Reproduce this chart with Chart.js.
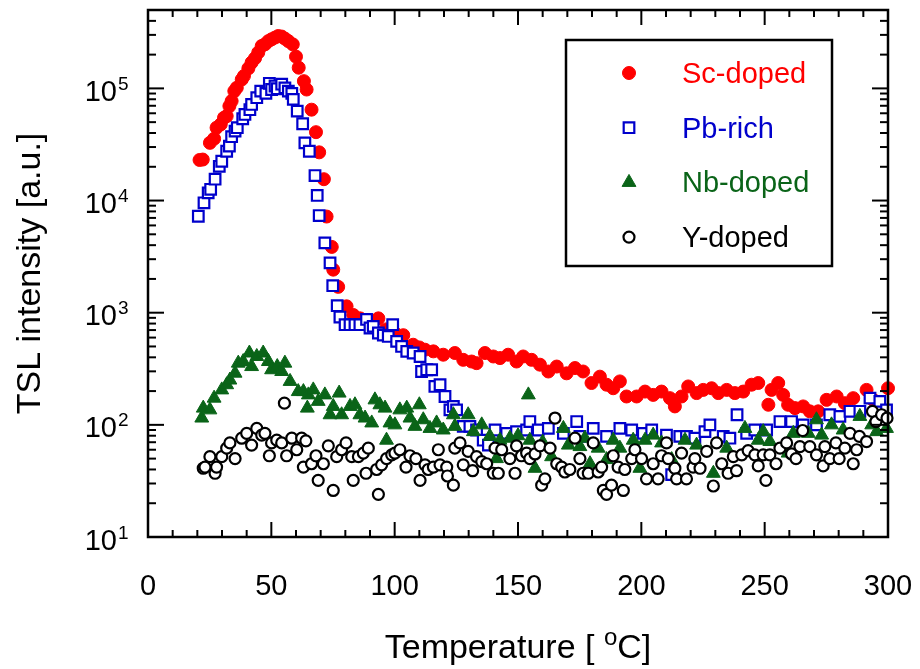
<!DOCTYPE html>
<html>
<head>
<meta charset="utf-8">
<title>TSL intensity</title>
<script src="https://cdn.jsdelivr.net/npm/chart.js@4.4.1/dist/chart.umd.min.js"></script>
<style>
  html, body { margin: 0; padding: 0; background: #fff; }
  canvas { display: block; }
</style>
</head>
<body>
<canvas id="tslChart" width="920" height="669"></canvas>
<script>
// [temperature (C), TSL intensity (a.u.)]
const scDoped = [
  [20.9, 23000], [22.2, 23200], [25.1, 32700], [26.8, 35600], [27.8, 44600], [29.5, 47800],
  [30.8, 54700], [31.9, 56600], [33.0, 69500], [33.9, 77100], [35.0, 94600], [36.0, 101400],
  [38.0, 120000], [38.9, 129000], [40.7, 151000], [42.0, 170000], [43.4, 186000], [44.7, 209000],
  [46.1, 239000], [47.4, 247000], [48.8, 264000], [50.1, 274000], [51.5, 284000], [52.8, 293000],
  [54.2, 290000], [55.5, 278000], [56.9, 264000], [58.7, 247000], [60.0, 192000], [61.1, 153000],
  [63.2, 116000], [64.3, 97700], [66.3, 64600], [68.1, 40700], [69.4, 26900], [71.3, 15500],
  [72.4, 7200], [74.5, 3860], [75.1, 2420], [77.1, 1700], [80.5, 1140], [83.2, 955],
  [86.0, 890], [88.6, 810], [91.0, 850], [93.4, 890], [96.4, 710], [100.0, 660],
  [103.5, 630], [107.5, 518], [110.0, 490], [112.3, 468], [115.7, 452], [119.7, 422],
  [124.4, 437], [127.8, 380], [131.2, 367], [133.2, 355], [136.6, 437], [140.0, 407],
  [142.7, 394], [146.0, 422], [149.4, 367], [152.1, 407], [155.5, 380], [158.9, 344],
  [162.3, 299], [165.7, 331], [169.7, 288], [173.1, 321], [176.4, 299], [179.8, 236],
  [183.2, 269], [185.9, 228], [188.6, 212], [191.3, 244], [194.0, 179], [198.1, 179],
  [201.5, 198], [204.8, 185], [208.2, 198], [211.6, 173], [213.6, 146], [216.3, 179],
  [219.0, 220], [222.4, 192], [225.1, 205], [228.5, 212], [231.2, 192], [234.6, 205],
  [237.9, 192], [241.3, 198], [244.7, 228], [247.4, 236], [251.5, 151], [252.8, 205],
  [255.5, 236], [257.5, 185], [259.5, 151], [262.3, 141], [265.6, 146], [268.3, 132],
  [271.7, 132], [275.1, 167], [279.2, 179], [282.5, 156], [285.9, 173], [291.3, 205],
  [294.0, 167], [300.0, 212]
];

const pbRich = [
  [20.4, 7240], [22.7, 9550], [24.4, 11700], [25.4, 12600], [27.2, 15500], [28.9, 20200],
  [29.9, 22400], [31.9, 27500], [33.0, 30600], [33.9, 37100], [35.3, 41600], [36.2, 44600],
  [38.4, 53600], [39.3, 58600], [41.3, 64600], [42.0, 71900], [44.1, 82600], [45.7, 94600],
  [47.8, 90200], [49.2, 111000], [50.1, 97700], [51.5, 105000], [52.4, 99300], [54.2, 109000],
  [55.5, 101000], [56.9, 94600], [58.3, 90200], [58.9, 79800], [60.5, 62700], [62.7, 48400],
  [63.6, 32700], [65.4, 27500], [67.7, 16700], [68.6, 11100], [69.4, 7350], [71.7, 4190],
  [73.8, 2780], [74.9, 1740], [76.7, 1155], [77.8, 914], [79.9, 782], [81.9, 782],
  [83.9, 782], [85.9, 782], [88.6, 871], [90.0, 730], [91.3, 755], [93.4, 659],
  [95.4, 631], [97.4, 614], [99.2, 782], [100.8, 555], [102.8, 500], [104.9, 452],
  [107.5, 437], [110.3, 407], [110.9, 299], [113.0, 310], [115.0, 310], [116.3, 220],
  [118.4, 228], [120.4, 179], [122.4, 136], [123.8, 146], [125.1, 136], [127.8, 97],
  [130.5, 97], [133.2, 90], [135.9, 73], [138.0, 66], [140.7, 90], [145.4, 84],
  [149.4, 87], [153.5, 90], [154.8, 107], [158.2, 90], [162.3, 93], [168.4, 84],
  [173.8, 107], [175.1, 79], [180.5, 93], [185.9, 79], [191.3, 93], [196.1, 90],
  [200.8, 84], [204.2, 90], [210.2, 81], [212.3, 36], [215.6, 79], [218.3, 79],
  [221.7, 76], [225.8, 87], [227.8, 100], [233.2, 79], [235.9, 76], [238.8, 123],
  [242.7, 84], [246.0, 90], [250.8, 90], [256.2, 107], [260.9, 107], [265.6, 100],
  [271.0, 100], [276.4, 123], [280.5, 119], [284.6, 132], [288.6, 132], [292.7, 173],
  [296.7, 162], [299.4, 136]
];

const nbDoped = [
  [21.8, 115], [22.4, 141], [25.1, 136], [26.8, 173], [29.9, 205], [31.9, 228],
  [33.2, 251], [35.3, 289], [36.6, 355], [38.6, 367], [41.1, 437], [42.0, 331],
  [44.1, 407], [46.7, 437], [48.8, 367], [50.1, 310], [52.4, 331], [54.2, 299],
  [55.5, 355], [57.6, 244], [60.9, 198], [63.0, 198], [64.6, 141], [65.0, 185],
  [67.0, 205], [69.0, 162], [71.7, 185], [73.8, 123], [75.1, 146], [77.5, 192],
  [78.5, 123], [81.9, 146], [83.9, 151], [85.9, 123], [88.0, 115], [90.7, 104],
  [92.0, 167], [94.0, 151], [96.1, 141], [96.7, 73], [98.1, 104], [100.1, 100],
  [102.1, 136], [104.9, 141], [106.2, 115], [108.2, 97], [110.0, 151], [111.6, 111],
  [114.3, 93], [117.0, 104], [119.7, 90], [123.8, 123], [124.4, 97], [129.8, 123],
  [131.9, 87], [135.3, 100], [138.6, 79], [141.3, 50], [142.7, 73], [146.7, 76],
  [150.0, 80], [154.2, 185], [154.8, 73], [156.9, 41], [160.0, 70], [163.6, 52],
  [168.4, 93], [170.4, 66], [175.1, 64], [177.1, 76], [179.2, 45], [182.5, 62],
  [185.9, 49], [188.6, 73], [191.3, 62], [196.7, 73], [199.4, 41], [201.5, 73],
  [204.8, 81], [208.2, 69], [212.3, 49], [217.7, 73], [222.4, 66], [229.2, 37],
  [234.6, 62], [242.0, 93], [247.4, 73], [249.4, 87], [252.1, 71], [259.5, 56],
  [261.6, 84], [267.7, 84], [271.0, 111], [273.1, 81], [277.1, 100], [281.8, 90],
  [288.6, 119], [293.4, 100], [295.4, 87], [299.4, 93]
];

const yDoped = [
  [22.4, 41], [23.1, 42], [25.1, 52], [27.2, 37], [27.8, 42], [29.9, 52],
  [31.9, 62], [33.2, 69], [35.3, 50], [38.0, 76], [40.0, 84], [42.0, 66],
  [44.1, 93], [46.1, 81], [47.4, 84], [49.2, 53], [50.1, 69], [52.2, 73],
  [54.2, 69], [55.3, 156], [56.2, 53], [58.3, 76], [60.3, 60], [62.3, 76],
  [63.0, 42], [64.0, 72], [66.3, 45], [68.1, 53], [69.0, 32], [71.1, 45],
  [73.1, 65], [75.1, 26], [76.5, 52], [78.5, 60], [80.3, 69], [82.6, 52],
  [83.2, 32], [85.3, 52], [87.3, 56], [88.4, 37], [89.3, 62], [92.7, 40],
  [93.4, 24], [94.7, 44], [96.7, 50], [98.8, 54], [100.1, 56], [102.1, 60],
  [104.6, 42], [106.2, 53], [108.6, 50], [110.3, 32], [112.3, 44], [113.6, 40],
  [115.7, 42], [117.7, 60], [118.4, 44], [121.1, 42], [121.4, 35], [123.8, 29],
  [124.4, 62], [126.5, 69], [127.8, 44], [129.8, 58], [131.6, 39], [133.2, 52],
  [135.3, 47], [137.3, 45], [140.0, 37], [140.7, 62], [142.0, 37], [143.4, 60],
  [146.7, 50], [148.8, 37], [149.4, 65], [151.4, 53], [153.5, 56], [154.8, 50],
  [156.9, 55], [158.9, 65], [159.6, 29], [160.9, 33], [163.0, 62], [165.0, 115],
  [165.7, 45], [167.7, 42], [169.0, 38], [171.0, 40], [173.1, 76], [175.1, 50],
  [176.4, 37], [178.5, 37], [180.5, 69], [182.5, 38], [183.9, 42], [184.6, 26],
  [185.9, 24], [187.9, 29], [188.6, 53], [190.6, 42], [192.7, 26], [193.3, 40],
  [196.1, 50], [197.4, 60], [200.1, 50], [202.1, 33], [204.8, 45], [206.8, 33],
  [208.2, 53], [210.2, 69], [210.9, 50], [213.6, 41], [214.3, 33], [216.3, 56],
  [218.3, 33], [221.0, 42], [221.7, 50], [223.8, 41], [226.5, 58], [229.2, 28.5],
  [230.5, 69], [232.6, 45], [235.2, 37], [237.3, 52], [238.6, 39], [240.7, 54],
  [243.3, 59], [246.0, 54], [247.4, 43], [249.4, 54], [250.5, 32], [252.1, 54],
  [254.6, 45], [256.2, 62], [258.9, 69], [260.9, 55], [262.7, 50], [264.3, 64],
  [265.4, 89], [268.3, 64], [271.0, 54], [273.7, 43], [274.4, 64], [276.4, 50],
  [278.9, 69], [280.2, 50], [282.5, 62], [284.6, 84], [285.9, 45], [287.3, 60],
  [288.4, 79], [291.3, 71], [293.7, 132], [295.1, 107], [297.4, 123], [299.6, 115]
];

// axis ticks
const xMajorTicks = [0, 50, 100, 150, 200, 250, 300];
const xTickLabels = ['0', '50', '100', '150', '200', '250', '300'];
const yDecades = [10, 100, 1000, 10000, 100000];
const yTickExponents = ['1', '2', '3', '4', '5'];

const FONT = '"Liberation Sans", Arial, Helvetica, sans-serif';
const RED = '#ff0000';
const BLUE = '#0000cc';
const GREEN = '#0a6418';

function toPoints(pairs) {
  return pairs.map(p => ({x: p[0], y: p[1]}));
}

const series = [
  {label: 'Sc-doped', data: scDoped, color: RED, style: 'circle', radius: 6.5, fill: RED, border: 1, order: 4},
  {label: 'Pb-rich', data: pbRich, color: BLUE, style: 'rect', radius: 7.5, fill: '#ffffff', border: 2.2, order: 3},
  {label: 'Nb-doped', data: nbDoped, color: GREEN, style: 'triangle', radius: 8, fill: GREEN, border: 1, order: 2},
  {label: 'Y-doped', data: yDoped, color: '#000000', style: 'circle', radius: 5.5, fill: '#ffffff', border: 2.2, order: 1}
];

// draw text with a raised small part, e.g. 10 + superscript 5
function supText(ctx, parts, x, y) {
  let cx = x;
  parts.forEach(p => {
    ctx.font = p.size + 'px ' + FONT;
    ctx.fillText(p.text, cx, y - (p.rise || 0));
    cx += ctx.measureText(p.text).width;
  });
}
function supWidth(ctx, parts) {
  let w = 0;
  parts.forEach(p => {
    ctx.font = p.size + 'px ' + FONT;
    w += ctx.measureText(p.text).width;
  });
  return w;
}

const frameAxes = {
  id: 'frameAxes',
  afterDraw(chart) {
    const ctx = chart.ctx;
    const a = chart.chartArea;
    const xs = chart.scales.x;
    const ys = chart.scales.y;
    ctx.save();
    ctx.strokeStyle = '#000';
    ctx.fillStyle = '#000';
    ctx.lineWidth = 2.5;
    ctx.lineCap = 'butt';
    ctx.strokeRect(a.left, a.top, a.right - a.left, a.bottom - a.top);

    const seg = (x1, y1, x2, y2) => {
      ctx.beginPath(); ctx.moveTo(x1, y1); ctx.lineTo(x2, y2); ctx.stroke();
    };

    // x ticks, pointing inward, bottom and top
    ctx.lineWidth = 2;
    for (let t = xs.min; t <= xs.max; t += 10) {
      const px = xs.getPixelForValue(t);
      const len = xMajorTicks.includes(t) ? 15 : 7;
      seg(px, a.bottom, px, a.bottom - len);
      seg(px, a.top, px, a.top + len);
    }
    // y ticks, log decades with 2..9 minors
    yDecades.forEach(d => {
      for (let m = 1; m <= 9; m++) {
        const v = m * d;
        if (v > ys.max) break;
        const py = ys.getPixelForValue(v);
        const len = m === 1 ? 16 : 8;
        seg(a.left, py, a.left + len, py);
        seg(a.right, py, a.right - len, py);
      }
    });

    // tick labels
    ctx.textBaseline = 'alphabetic';
    ctx.textAlign = 'center';
    ctx.font = '29px ' + FONT;
    xMajorTicks.forEach((t, i) => {
      ctx.fillText(xTickLabels[i], xs.getPixelForValue(t), a.bottom + 58);
    });
    yDecades.forEach((d, i) => {
      const py = ys.getPixelForValue(d) + 12.5;
      ctx.textAlign = 'right';
      ctx.font = '29px ' + FONT;
      ctx.fillText('10', a.left - 31, py);
      ctx.textAlign = 'left';
      ctx.font = '19px ' + FONT;
      ctx.fillText(yTickExponents[i], a.left - 30, py - 11);
    });

    // axis titles
    ctx.textAlign = 'left';
    const xTitle = [
      {text: 'Temperature [ ', size: 34},
      {text: 'o', size: 24, rise: 13},
      {text: 'C]', size: 34}
    ];
    const xw = supWidth(ctx, xTitle);
    supText(ctx, xTitle, (a.left + a.right) / 2 - xw / 2, 658);

    ctx.save();
    ctx.translate(40, (a.top + a.bottom) / 2);
    ctx.rotate(-Math.PI / 2);
    ctx.textAlign = 'center';
    ctx.font = '34px ' + FONT;
    ctx.fillText('TSL intensity [a.u.]', 0, 0);
    ctx.restore();

    // legend box
    ctx.lineWidth = 2.5;
    ctx.strokeStyle = '#000';
    ctx.strokeRect(566, 40, 266, 226);
    series.forEach((s, i) => {
      const cy = 73 + i * 54.7;
      ctx.fillStyle = s.fill;
      ctx.strokeStyle = s.color;
      ctx.lineWidth = s.border;
      Chart.helpers.drawPoint(ctx, {pointStyle: s.style, radius: s.radius, rotation: 0, borderWidth: s.border}, 629, cy);
      ctx.fillStyle = s.color;
      ctx.textAlign = 'left';
      ctx.font = '29px ' + FONT;
      ctx.fillText(s.label, 682, cy + 10);
    });
    ctx.restore();
  }
};

const datasets = series.map(s => ({
  label: s.label,
  data: toPoints(s.data),
  pointStyle: s.style,
  pointRadius: s.radius,
  pointBackgroundColor: s.fill,
  pointBorderColor: s.color,
  pointBorderWidth: s.border,
  showLine: false,
  order: s.order,
  clip: false
}));

new Chart(document.getElementById('tslChart'), {
  type: 'scatter',
  data: {datasets: datasets},
  options: {
    responsive: false,
    animation: false,
    events: [],
    layout: {padding: {left: 0, top: 10, right: 32, bottom: 0}},
    plugins: {
      legend: {display: false},
      tooltip: {enabled: false}
    },
    scales: {
      x: {
        type: 'linear', min: 0, max: 300,
        ticks: {display: false},
        grid: {display: false},
        border: {display: false},
        afterFit(scale) { scale.height = 132; }
      },
      y: {
        type: 'logarithmic', min: 10, max: 500000,
        ticks: {display: false},
        grid: {display: false},
        border: {display: false},
        afterFit(scale) { scale.width = 148; }
      }
    }
  },
  plugins: [frameAxes]
});
</script>
</body>
</html>
